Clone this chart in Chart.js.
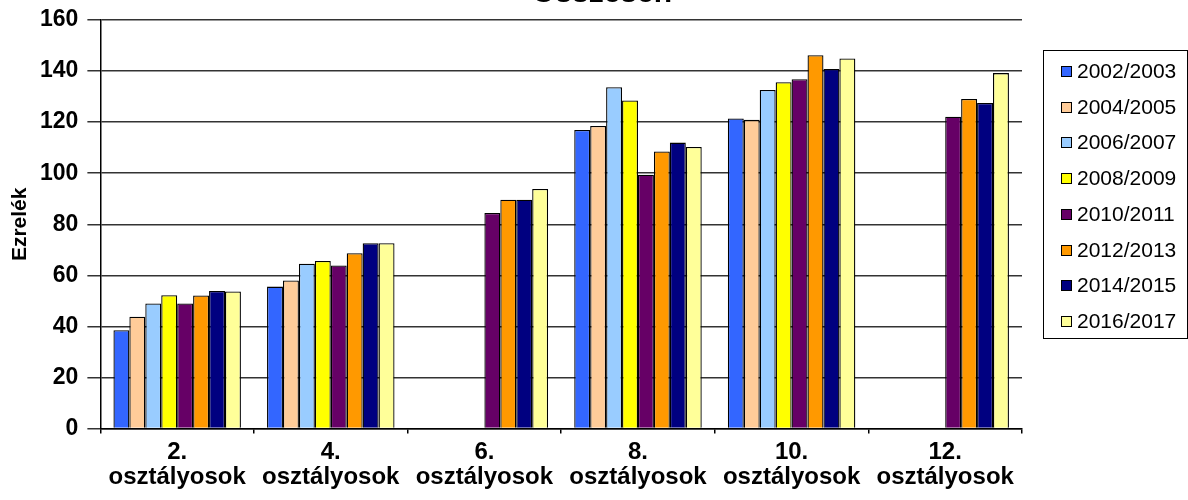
<!DOCTYPE html>
<html>
<head>
<meta charset="utf-8">
<script src="https://cdn.jsdelivr.net/npm/chart.js@4"></script>
<style>
  body { margin: 0; background: #fff; }
  #wrap { position: relative; width: 1188px; height: 500px; overflow: hidden; }
  #chart { position: absolute; left: 0; top: 0; }
  #title {
    position: absolute; left: 452px; width: 300px; top: -23px; height: 30px; line-height: 30px;
    text-align: center; font-family: Arial, "Liberation Sans", sans-serif; font-size: 30px; font-weight: bold; color: #000;
  }
  #legend {
    position: absolute; left: 1043px; top: 50px; width: 143px; height: 287px;
    border: 1px solid #000; box-sizing: content-box;
    font-family: Arial, "Liberation Sans", sans-serif; font-size: 21px; color: #000;
  }
  #legend .item { position: absolute; left: 17px; height: 24px; line-height: 24px; white-space: nowrap; }
  #legend .sw { display: inline-block; width: 9px; height: 9px; border: 1px solid #000; margin-right: 5px; vertical-align: 1px; }
</style>
</head>
<body>
<div id="wrap">
  <canvas id="chart" width="1188" height="500"></canvas>
  <div id="title">Összesen</div>
  <div id="legend"></div>
</div>
<script>
const categories = [
  ['2.', 'osztályosok'],
  ['4.', 'osztályosok'],
  ['6.', 'osztályosok'],
  ['8.', 'osztályosok'],
  ['10.', 'osztályosok'],
  ['12.', 'osztályosok']
];

const seriesNames = ['2002/2003', '2004/2005', '2006/2007', '2008/2009', '2010/2011', '2012/2013', '2014/2015', '2016/2017'];
const seriesColors = ['#3366FF', '#FFCC99', '#99CCFF', '#FFFF00', '#660066', '#FF9900', '#000080', '#FFFF99'];

const y2002 = [38.5, 55.6, null, 116.9, 121.4, null];
const y2004 = [43.8, 58.0, null, 118.5, 120.9, null];
const y2006 = [49.0, 64.6, null, 133.7, 132.6, null];
const y2008 = [52.2, 65.6, null, 128.5, 135.6, null];
const y2010 = [49.0, 63.9, 84.4, 99.4, 136.8, 122.1];
const y2012 = [52.1, 68.7, 89.6, 108.5, 146.2, 129.1];
const y2014 = [53.9, 72.6, 89.6, 112.0, 140.8, 127.5];
const y2016 = [53.7, 72.6, 93.8, 110.3, 144.9, 139.2];

const seriesValues = [y2002, y2004, y2006, y2008, y2010, y2012, y2014, y2016];

const FONT = 'Arial, "Liberation Sans", sans-serif';

// legend in html, same order as the series
const legendEl = document.getElementById('legend');
seriesNames.forEach((name, i) => {
  const div = document.createElement('div');
  div.className = 'item';
  div.style.top = (8 + i * 35.7) + 'px';
  div.innerHTML = `<span class="sw" style="background:${seriesColors[i]}"></span>${name}`;
  legendEl.appendChild(div);
});

const datasets = seriesNames.map((name, i) => ({
  label: name,
  data: seriesValues[i],
  backgroundColor: seriesColors[i],
  borderColor: '#000',
  borderWidth: 1.3,
  categoryPercentage: 0.83,
  barPercentage: 1
}));

new Chart(document.getElementById('chart'), {
  type: 'bar',
  data: { labels: categories, datasets },
  options: {
    responsive: false,
    animation: false,
    devicePixelRatio: 1,
    layout: { padding: { left: -4, right: 166, top: 20, bottom: 4 } },
    plugins: {
      legend: { display: false },
      tooltip: { enabled: false },
      title: { display: false }
    },
    scales: {
      x: {
        border: { color: '#000', width: 1.5 },
        grid: { drawOnChartArea: false, drawTicks: true, tickLength: 5, color: '#000', lineWidth: 1.5 },
        ticks: {
          color: '#000',
          padding: 6,
          maxRotation: 0,
          autoSkip: false,
          font: { family: FONT, size: 24, weight: 'bold', lineHeight: 1.05 }
        }
      },
      y: {
        min: 0,
        max: 160,
        border: { color: '#000', width: 1.5 },
        grid: { color: '#333', lineWidth: 1.5, tickLength: 13 },
        ticks: {
          stepSize: 20,
          color: '#000',
          padding: 9,
          font: { family: FONT, size: 23, weight: 'bold', lineHeight: 0.6 }
        },
        title: {
          display: true,
          text: 'Ezrelék',
          color: '#000',
          padding: { top: 14, bottom: 0 },
          font: { family: FONT, size: 21, weight: 'bold', lineHeight: 1.0 }
        }
      }
    }
  }
});
</script>
</body>
</html>
